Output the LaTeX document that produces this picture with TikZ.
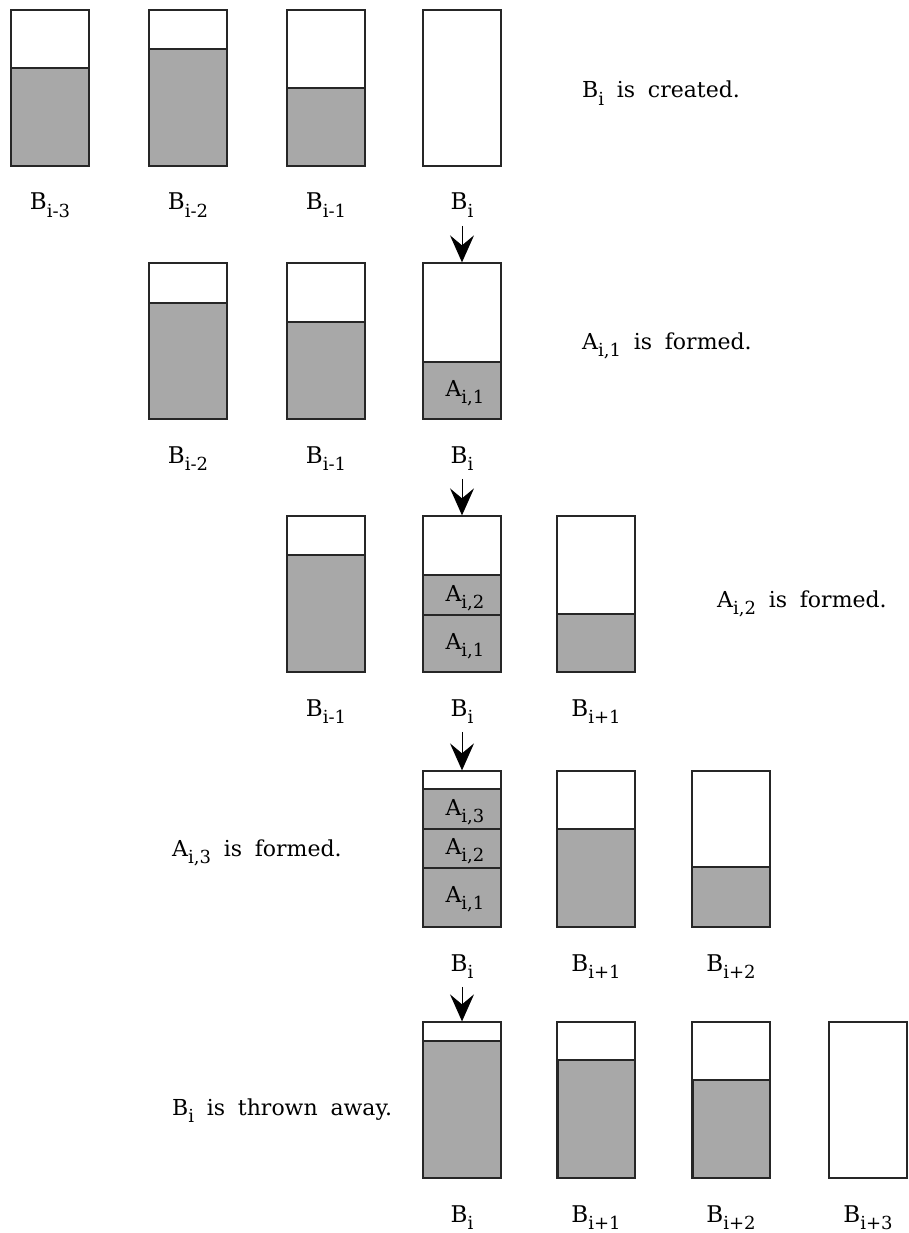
\documentclass[tikz,border=0pt]{standalone}
\usepackage{fontspec}
\setmainfont{DejaVu Serif}
\usetikzlibrary{arrows.meta,calc}
\newcommand{\sbs}[1]{\raisebox{-0.33em}{\fontsize{18}{18}\selectfont #1}}
\newcommand{\wsp}{\hspace{0.58em}}
\tikzset{
  bufbox/.style={draw=black!85, line width=1.3pt, minimum width=78pt, minimum height=156pt, inner sep=0pt},
  fillc/.style={fill=black!34},
  divline/.style={draw=black!85, line width=1.1pt},
  lab/.style={font=\fontsize{23}{27}\selectfont, inner sep=0pt, anchor=base},
  alab/.style={font=\fontsize{22}{26}\selectfont, inner sep=0pt},
  desc/.style={font=\fontsize{22}{26}\selectfont, inner sep=0pt, anchor=base west},
  flow/.style={line width=0.9pt, -{Stealth[length=27pt,width=24pt,inset=10pt]}},
}
% name, left x, top y, fill top y, label
\newcommand{\bufcol}[5]{%
  \fill[fillc] (#2,#4) rectangle (#2+78,#3+156);
  \draw[divline] (#2,#4) -- (#2+78,#4);
  \node[bufbox] (#1) at (#2+39,#3+78) {};
  \node[lab] (#1l) at (#2+39,#3+156+44) {#5};
}
\newcommand{\bufempty}[4]{%
  \node[bufbox] (#1) at (#2+39,#3+78) {};
  \node[lab] (#1l) at (#2+39,#3+156+44) {#4};
}
\begin{document}
\begin{tikzpicture}[x=1pt,y=-1pt]
\useasboundingbox (0,0) rectangle (908,1233);
% row 1
\bufcol{a0}{11}{10}{68}{B\sbs{i-3}}
\bufcol{a1}{149}{10}{49}{B\sbs{i-2}}
\bufcol{a2}{287}{10}{88}{B\sbs{i-1}}
\bufempty{a3}{423}{10}{B\sbs{i}}
\node[desc] (t1) at (582,98) {B\sbs{i}\wsp is\wsp created.};
% row 2
\bufcol{b1}{149}{263}{303}{B\sbs{i-2}}
\bufcol{b2}{287}{263}{322}{B\sbs{i-1}}
\bufcol{b3}{423}{263}{362}{B\sbs{i}}
\node[alab] (b3a1) at (465,393) {A\sbs{i,1}};
\node[desc] (t2) at (582,349) {A\sbs{i,1}\wsp is\wsp formed.};
% row 3
\bufcol{c2}{287}{516}{555}{B\sbs{i-1}}
\bufcol{c3}{423}{516}{575}{B\sbs{i}}
\draw[divline] (423,615) -- (501,615);
\node[alab] (c3a2) at (465,598) {A\sbs{i,2}};
\node[alab] (c3a1) at (465,646) {A\sbs{i,1}};
\bufcol{c4}{557}{516}{614}{B\sbs{i+1}}
\node[desc] (t3) at (717,607) {A\sbs{i,2}\wsp is\wsp formed.};
% row 4
\bufcol{d3}{423}{771}{789}{B\sbs{i}}
\draw[divline] (423,829) -- (501,829);
\draw[divline] (423,868) -- (501,868);
\node[alab] (d3a3) at (465,812) {A\sbs{i,3}};
\node[alab] (d3a2) at (465,851) {A\sbs{i,2}};
\node[alab] (d3a1) at (465,899) {A\sbs{i,1}};
\bufcol{d4}{557}{771}{829}{B\sbs{i+1}}
\bufcol{d5}{692}{771}{867}{B\sbs{i+2}}
\node[desc] (t4) at (172,856) {A\sbs{i,3}\wsp is\wsp formed.};
% row 5
\bufcol{e3}{423}{1022}{1041}{B\sbs{i}}
\bufcol{e4}{557}{1022}{1060}{B\sbs{i+1}}
\bufcol{e5}{692}{1022}{1080}{B\sbs{i+2}}
\bufempty{e6}{829}{1022}{B\sbs{i+3}}
\draw[line width=2.2pt, draw=black!85] (558,1060) -- (558,1178);
\draw[line width=2.2pt, draw=black!85] (693,1080) -- (693,1178);
\node[desc] (t5) at (172,1115) {B\sbs{i}\wsp is\wsp thrown\wsp away.};
% arrows
\draw[flow] ([yshift=-8pt]a3l.south -| b3.north) -- (b3.north);
\draw[flow] ([yshift=-8pt]b3l.south -| c3.north) -- (c3.north);
\draw[flow] ([yshift=-8pt]c3l.south -| d3.north) -- (d3.north);
\draw[flow] ([yshift=-8pt]d3l.south -| e3.north) -- (e3.north);
\end{tikzpicture}
\end{document}
